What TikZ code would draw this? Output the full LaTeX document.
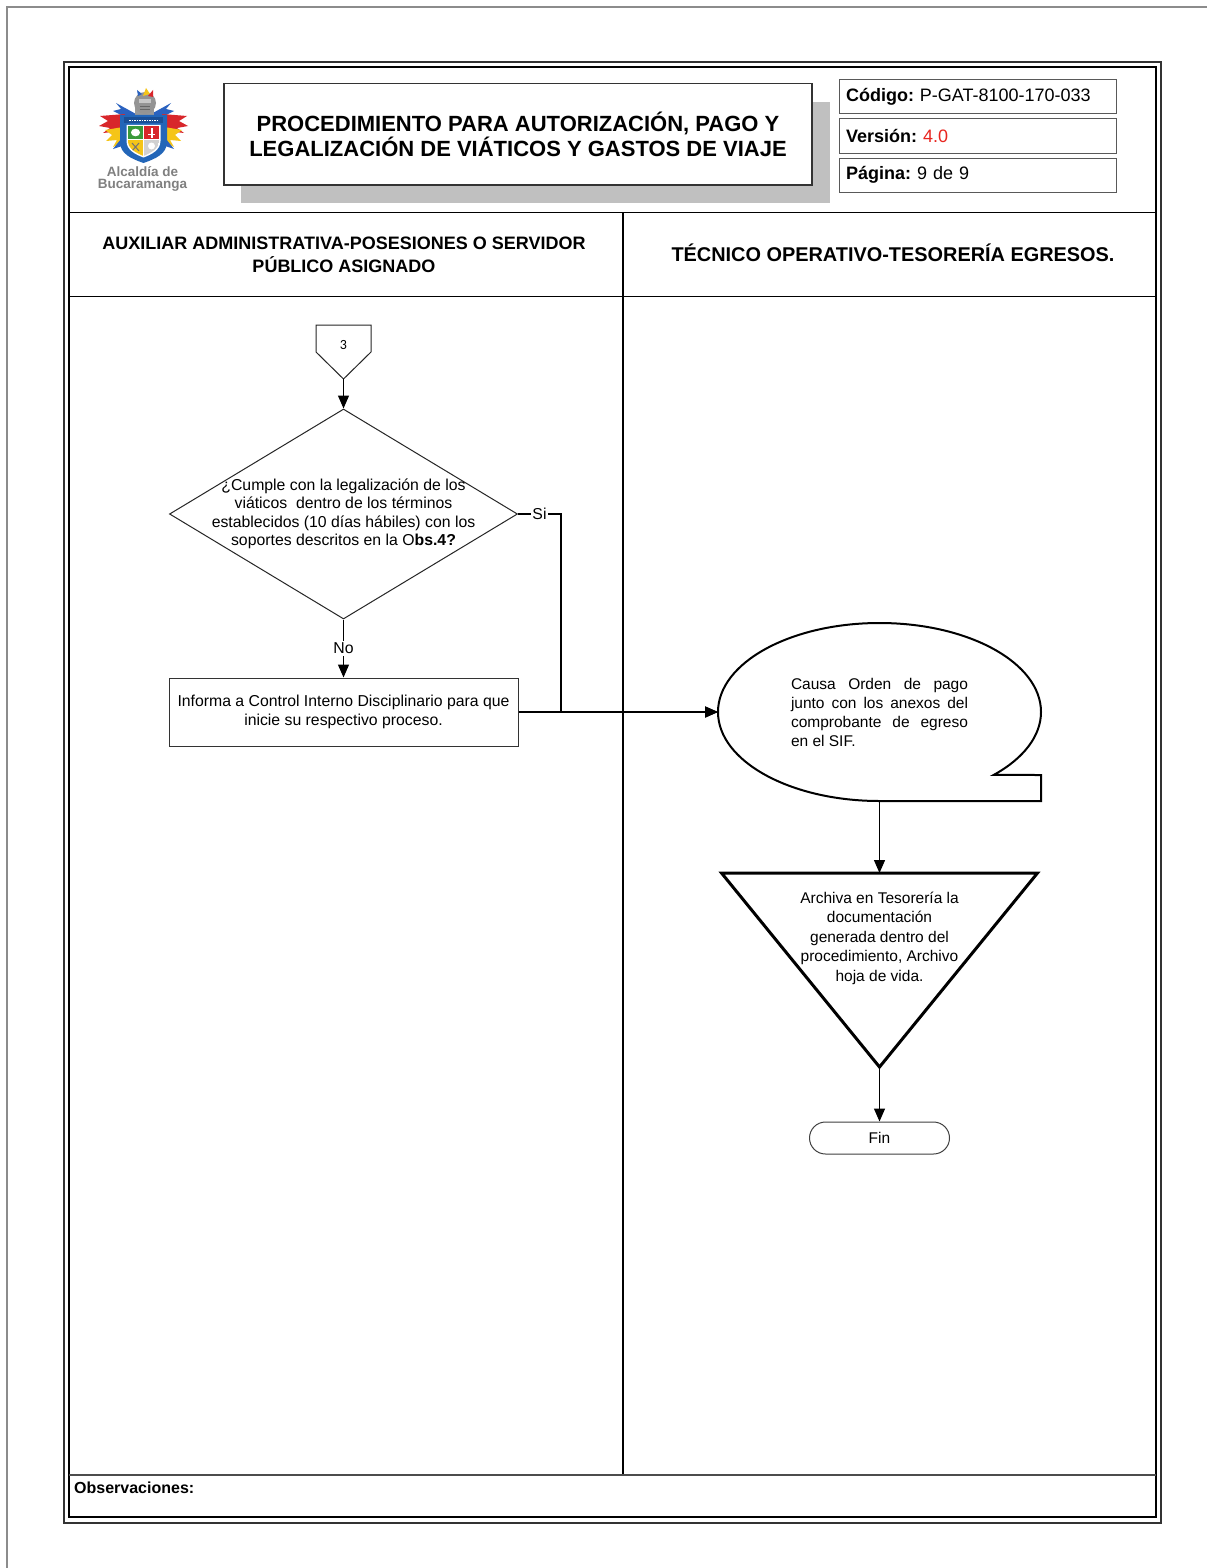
\documentclass[tikz,border=0pt]{standalone}
\usepackage{fontspec}
\setmainfont{Liberation Sans}
\newfontfamily\carlitofont{Carlito}
\usetikzlibrary{arrows.meta,shapes.geometric}
\definecolor{shieldblue}{HTML}{2366B8}
\definecolor{darkband}{HTML}{1A4F96}
\definecolor{plumered}{HTML}{D8262B}
\definecolor{plumeyellow}{HTML}{F5C518}
\definecolor{plumeblue}{HTML}{2A62C0}
\definecolor{shieldgreen}{HTML}{3A9A3A}
\definecolor{verred}{HTML}{E8251F}
\definecolor{shadowgray}{HTML}{C0C0C0}
\frenchspacing
\begin{document}
\begin{tikzpicture}[x=1pt,y=-1pt,
  conn/.style={line width=1.3pt,-{Triangle[length=13pt,width=11pt]}},
  tablerule/.style={line width=1.3pt,black},
  txt/.style={font=\fontsize{15.8}{18.5}\selectfont,align=center,inner sep=0pt},
  lbl/.style={font=\fontsize{15.8}{18.5}\selectfont,fill=white,inner sep=1.5pt},
  hdr/.style={align=center,inner sep=0pt},
  infobox/.style={draw=black!65,line width=1pt,minimum width=277pt,minimum height=34pt,
    inner xsep=7pt,inner ysep=0pt,text width=263pt,align=left,font=\fontsize{18}{20}\selectfont},
  ghost/.style={inner sep=0pt,outer sep=0pt},
  logotext/.style={inner sep=0pt,anchor=base,font=\fontsize{13.5}{13.5}\bfseries\selectfont,text=black!50}
]
\useasboundingbox (0,0) rectangle (1207,1568);
\fill[white] (0,0) rectangle (1207,1568);
% page edge
\draw[black!45,line width=1.3pt] (7,1568) -- (7,7) -- (1207,7);
% outer double frame
\draw[black!80,line width=2pt] (64,62) rectangle (1161,1523);
\draw[black,line width=1.2pt] (69,67) rectangle (1156,1517);
% table rules
\draw[tablerule] (69,212.7) -- (1156,212.7);
\draw[tablerule] (69,296.7) -- (1156,296.7);
\draw[tablerule] (623,212.7) -- (623,1475);
\draw[black!70,line width=2pt] (69,1475) -- (1156,1475);

% ---------- logo ----------
\begin{scope}
  \foreach \s/\sh in {1/0,-1/287}{
    \begin{scope}[xshift=\sh pt,xscale=\s]
      \fill[plumeblue] (136,114) -- (116,103) -- (121,109) -- (113,111) -- (123,116) -- (118,119) -- (133,119) -- cycle;
      \fill[plumered] (125,114) -- (100,116) -- (108,121) -- (99,126) -- (110,128) -- (103,133) -- (121,131) -- (124,123) -- cycle;
      \fill[plumeyellow] (123,127) -- (105,130) -- (112,135) -- (106,141) -- (117,140) -- (113,147) -- (123,142) -- cycle;
      \fill[plumeblue] (121,139) -- (113,149) -- (122,146) -- cycle;
    \end{scope}
  }
  % helmet
  \fill[black!40] (135,106) rectangle (154,116);
  \fill[black!42] (145,103) ellipse[x radius=11,y radius=11];
  \fill[black!22] (139,99) rectangle (151,103);
  \draw[black!60,line width=0.8pt] (140,106) -- (150,106) (140,109) -- (150,109);
  \fill[plumeyellow] (143,96) -- (146,88) -- (150,94) -- cycle;
  \fill[plumered] (148,96) -- (153,90) -- (153,97) -- cycle;
  \fill[plumeblue] (138,96) -- (137,90) -- (142,94) -- cycle;
  % shield
  \fill[shieldblue] (120,115) -- (167,115) -- (167,142) .. controls (167,154) and (155,159) .. (143.5,163)
     .. controls (132,159) and (120,154) .. (120,142) -- cycle;
  \fill[darkband] (124,117) rectangle (163,123.5);
  \draw[white,line width=0.8pt,dash pattern=on 1.5pt off 1pt] (129,120.3) -- (158,120.3);
  \fill[white] (126.5,125) -- (160.5,125) -- (160.5,141) .. controls (160.5,150) and (151.5,154.5) .. (143.5,157.5)
     .. controls (135.5,154.5) and (126.5,150) .. (126.5,141) -- cycle;
  \begin{scope}
    \clip (128,126) -- (159,126) -- (159,141) .. controls (159,149) and (150.5,153) .. (143.5,156)
       .. controls (136.5,153) and (128,149) .. (128,141) -- cycle;
    \fill[shieldgreen] (128,126) rectangle (143,139);
    \fill[plumered] (144,126) rectangle (159,139);
    \fill[plumeyellow] (128,140) rectangle (143,157);
    \fill[black!18] (144,140) rectangle (159,157);
    \fill[white] (135.5,132.5) ellipse[x radius=4.5,y radius=3.8];
    \fill[white] (150.5,128) rectangle (152.5,138);
    \fill[white] (148,134) rectangle (155,135.3);
    \fill[white] (151.5,146) circle[radius=3.5];
    \draw[black!55,line width=1pt] (132,143) -- (139,151) (139,143) -- (132,151);
  \end{scope}
  \node[logotext] (logotxt1) at (142.5,176.5) {Alcaldía de};
  \node[logotext] (logotxt2) at (142.5,188) {Bucaramanga};
\end{scope}

% ---------- title ----------
\fill[shadowgray] (241,101.7) rectangle (830,203);
\node[draw=black!80,line width=1.2pt,fill=white,minimum width=588pt,minimum height=101.7pt,
  inner sep=0pt,align=center,font=\fontsize{22}{25}\bfseries] (title) at (518,134.2)
  {PROCEDIMIENTO PARA AUTORIZACIÓN, PAGO Y\\LEGALIZACIÓN DE VIÁTICOS Y GASTOS DE VIAJE};

\node[infobox] (codigo) at (977.5,97) {\textbf{Código:} P-GAT-8100-170-033};
\node[infobox] (version) at (977.5,136) {\textbf{Versión:} \textcolor{verred}{4.0}};
\node[infobox] (pagina) at (977.5,175) {\textbf{Página:} 9 de 9};

% ---------- lane headers ----------
\node[hdr,font=\fontsize{18}{23}\bfseries\selectfont] (lane1) at (344,255)
  {AUXILIAR ADMINISTRATIVA-POSESIONES O SERVIDOR\\PÚBLICO ASIGNADO};
\node[hdr,font=\fontsize{19.9}{23}\bfseries\selectfont] (lane2) at (893,253)
  {TÉCNICO OPERATIVO-TESORERÍA EGRESOS.};

% ---------- flow, lane 1 ----------
\node[ghost,minimum width=55pt,minimum height=54pt] (off) at (343.5,352) {};
\draw[black!85,line width=1pt,line join=miter] (off.north west) -- (off.north east) -- (off.east) -- (off.south) -- (off.west) -- cycle;
\node[ghost,font=\carlitofont\fontsize{14}{14}\selectfont] (offtxt) at (343.5,345) {3};

\node[diamond,draw=black!85,line width=1pt,minimum width=348pt,minimum height=210pt,inner sep=0pt] (dec) at (343.5,514) {};
\node[txt] (dectxt) at (343.5,514)
  {¿Cumple con la legalización de los\\viáticos\ \ dentro de los términos\\establecidos (10 días hábiles) con los\\soportes descritos en la O\textbf{bs.4?}};

\node[draw=black!80,line width=1pt,minimum width=349pt,minimum height=68pt,txt] (box) at (343.5,712)
  {Informa a Control Interno Disciplinario para que\\inicie su respectivo proceso.};

% ---------- flow, lane 2 ----------
\node[ghost,minimum width=323pt,minimum height=178pt] (bub) at (879.5,712) {};
\draw[black,line width=2pt,line join=miter] (bub.south) arc[start angle=90,end angle=405,x radius=161.5,y radius=89]
  -- (bub.south east |- 0,775) -- (bub.south east) -- cycle;
\node[ghost,align=left,font=\fontsize{15.5}{19}\selectfont] (bubtxt) at (879.5,712.5)
  {\makebox[177pt][s]{Causa Orden de pago}\\\makebox[177pt][s]{junto con los anexos del}\\\makebox[177pt][s]{comprobante de egreso}\\\makebox[177pt][l]{en el SIF.}};

\node[ghost,minimum width=316pt,minimum height=194pt] (tri) at (879.5,970) {};
\draw[black,line width=3pt,line join=miter] (tri.north west) -- (tri.north east) -- (tri.south) -- cycle;
\node[txt,font=\fontsize{15.5}{19.5}\selectfont] (tritxt) at (879.5,938)
  {Archiva en Tesorería la\\documentación\\generada dentro del\\procedimiento, Archivo\\hoja de vida.};

\node[draw=black!75,line width=1pt,rounded corners=16pt,minimum width=140pt,minimum height=32pt,
  font=\fontsize{15.5}{18}\selectfont,inner sep=0pt] (fin) at (879.5,1138) {Fin};

% ---------- connectors ----------
\draw[conn] (off.south) -- (dec.north);
\draw[conn] (dec.south) -- node[lbl] {No} (box.north);
\draw[conn] (dec.east) -- node[lbl] {Si} ++(43,0) |- (bub.west);
\draw[conn] (box.east) -- (bub.west);
\draw[conn] (bub.south) -- (tri.north);
\draw[conn] (tri.south) -- (fin.north);

% ---------- observations ----------
\node[anchor=west,inner sep=0pt,font=\fontsize{16}{16}\bfseries\selectfont] (obs) at (74,1488) {Observaciones:};
\end{tikzpicture}
\end{document}
